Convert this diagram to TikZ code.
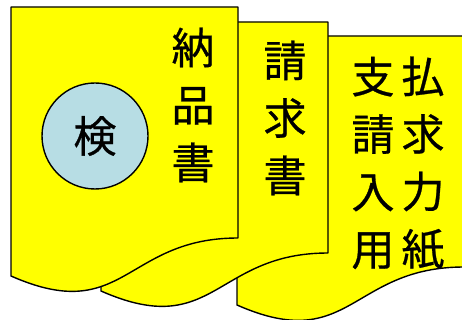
\documentclass[tikz,border=0pt]{standalone}
\usepackage{fontspec}
\newfontfamily\jp[FakeBold=0.6]{Noto Sans CJK JP}
\definecolor{docyellow}{RGB}{255,255,0}
\definecolor{kenblue}{RGB}{183,221,228}
\tikzset{
  docshape/.style={draw=black, line width=1.4pt, fill=docyellow, line join=round},
  jptext/.style={font=\jp\fontsize{43}{57.5}\selectfont, align=center, inner sep=0pt},
}
\newcommand{\docpath}[2]{%
  (#1,#2) -- (#1+227,#2) -- (#1+227,#2+231)
  .. controls (#1+113.5,#2+231) and (#1+113.5,#2+319) .. (#1,#2+269) -- cycle}
\begin{document}
\begin{tikzpicture}[x=1pt,y=-1pt]
\useasboundingbox (0,0) rectangle (462,320);
% back document
\draw[docshape] \docpath{237}{36};
% middle document
\draw[docshape] \docpath{101}{22};
% front document
\draw[docshape] \docpath{11}{7};
% circle
\node[draw=black, line width=1.4pt, fill=kenblue, circle, minimum size=106pt, inner sep=0pt,
      font=\jp\fontsize{43}{43}\selectfont] (ken) at (95,136) {検};
% texts
\node[jptext] (nohin) at (193,105) {納\\品\\書};
\node[jptext] (seikyu) at (285,118) {請\\求\\書};
\node[jptext] (shiharaiA) at (373,163) {支\\請\\入\\用};
\node[jptext] (shiharaiB) at (423,163) {払\\求\\力\\紙};
\end{tikzpicture}
\end{document}
